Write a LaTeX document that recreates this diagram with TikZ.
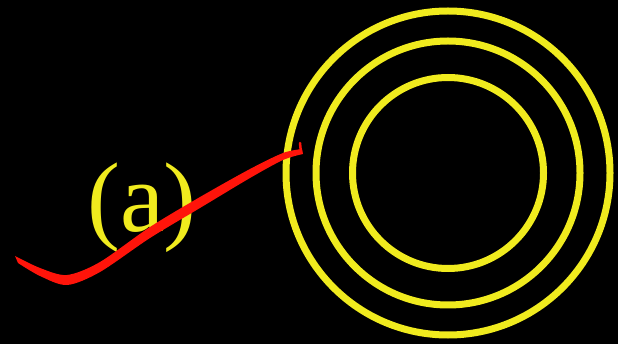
\documentclass[tikz,border=0pt]{standalone}
\usepackage{fontspec}
\newfontfamily\labfont{Liberation Serif}
\definecolor{ringyellow}{RGB}{240,235,30}
\definecolor{curvered}{RGB}{255,20,10}
\begin{document}
\begin{tikzpicture}[x=1pt,y=-1pt,
  ringstyle/.style={draw=ringyellow,line width=7pt},
  labelstyle/.style={text=ringyellow,inner sep=0pt,font=\labfont\fontsize{99}{99}\selectfont}]
\fill[black] (0,0) rectangle (618,344);
\useasboundingbox (0,0) rectangle (618,344);
\coordinate (c) at (448,173);
\draw[ringstyle] (c) circle[radius=162];
\draw[ringstyle] (c) circle[radius=132];
\draw[ringstyle] (c) circle[radius=95.5];
\node[labelstyle,anchor=base] (lab) at (142,232) {(a)};
\fill[curvered] plot[smooth] coordinates {(15,256) (40,268) (67,275) (100,262) (150,227) (200,197) (250,169) (283,153) (302,149)}
  -- plot[smooth] coordinates {(303,154) (283,160) (250,178) (200,208) (150,238) (100,272) (67,285) (40,276) (18,263)} -- cycle;
\draw[draw=curvered,line width=2.5pt,line cap=round] (301,153) -- (300,143);
\end{tikzpicture}
\end{document}
